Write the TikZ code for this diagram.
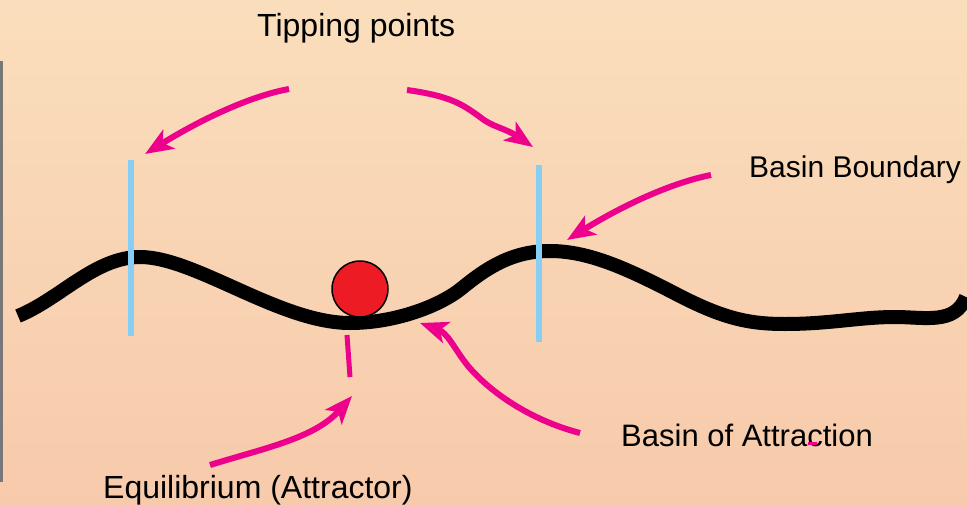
\documentclass[tikz,border=0pt]{standalone}
\usepackage{fontspec}
\setmainfont{Liberation Sans}
\usetikzlibrary{arrows.meta}
\definecolor{bgtop}{RGB}{250,222,188}
\definecolor{bgbot}{RGB}{247,202,171}
\definecolor{mag}{RGB}{236,0,140}
\definecolor{sky}{RGB}{135,206,245}
\definecolor{ballred}{RGB}{237,28,36}
\definecolor{edgegray}{RGB}{120,118,118}
\begin{document}
\begin{tikzpicture}[x=1pt,y=-1pt,
  lbl/.style={anchor=base west, inner sep=0pt, text=black},
  pointer/.style={draw=mag, line width=6pt, line cap=butt,
    -{Stealth[length=28pt,width=22pt,inset=7pt,fill=mag]}},
  bound/.style={draw=sky, line width=5.5pt},
  landscape/.style={draw=black, line width=14pt}]
\useasboundingbox (0,0) rectangle (967,506);
\shade[top color=bgtop,bottom color=bgbot] (0,0) rectangle (967,506);
\fill[edgegray] (0,61) rectangle (2.5,482);

% landscape
\coordinate (l0) at (18,316);
\coordinate (p1) at (140,257);
\coordinate (v1) at (350,323);
\coordinate (i1) at (462,288);
\coordinate (p2) at (550,251);
\coordinate (i2) at (680,296);
\coordinate (v2) at (785,324);
\coordinate (h3) at (895,317);
\coordinate (l1) at (966,297);
\draw[landscape] (l0) .. controls (60,299) and (95,257) .. (p1)
  .. controls (195,257) and (280,323) .. (v1)
  .. controls (395,323) and (440,306) .. (i1)
  .. controls (490,265) and (515,251) .. (p2)
  .. controls (590,251) and (630,270) .. (i2)
  .. controls (725,319) and (750,324) .. (v2)
  .. controls (830,324) and (860,317) .. (h3)
  .. controls (925,317) and (955,325) .. (l1);

% basin boundaries
\coordinate (b1t) at (131,160); \coordinate (b1b) at (131,336);
\coordinate (b2t) at (539,165); \coordinate (b2b) at (539,342);
\draw[bound] (b1t) -- (b1b);
\draw[bound] (b2t) -- (b2b);

% ball
\node[circle, draw=black, line width=1.5pt, fill=ballred, minimum size=56pt, inner sep=0pt] (ball) at (360,289) {};

% labels
\node[lbl, font=\fontsize{32}{38}\selectfont] (tip) at (257,36) {Tipping points};
\node[lbl, font=\fontsize{30}{36}\selectfont] (bb) at (749,177) {Basin Boundary};
\node[lbl, font=\fontsize{31}{37}\selectfont] (boa) at (621,446) {Basin of Attraction};
\node[lbl, font=\fontsize{32}{38}\selectfont] (eq) at (103,498) {Equilibrium (Attractor)};

% pointer coordinates
\coordinate (t1s) at (289,89);  \coordinate (t1e) at (145,154);
\coordinate (t2s) at (407,90);  \coordinate (t2m) at (480,117); \coordinate (t2e) at (533,147);
\coordinate (bbs) at (711,175); \coordinate (bbe) at (567,240);
\coordinate (bas) at (580,433); \coordinate (bam) at (468,366); \coordinate (bae) at (420,323);
\coordinate (eqs) at (210,465); \coordinate (eqe) at (352,396);
\coordinate (eqt) at (347,335); \coordinate (eqb) at (350,377);
\coordinate (dt1) at (808,443); \coordinate (dt2) at (817,443);

\draw[pointer] (t1s) .. controls (250,96) and (200,120) .. (t1e);
\draw[pointer] (t2s) .. controls (450,96) and (462,104) .. (t2m)
  .. controls (492,127) and (505,128) .. (t2e);
\draw[pointer] (bbs) .. controls (670,183) and (620,207) .. (bbe);
\draw[pointer] (bas) .. controls (530,420) and (490,392) .. (bam)
  .. controls (455,350) and (448,333) .. (bae);
\draw[pointer] (eqs) .. controls (265,448) and (315,438) .. (eqe);
\draw[draw=mag, line width=5pt] (eqt) -- (eqb);
\draw[draw=mag, line width=3pt] (dt1) -- (dt2);
\end{tikzpicture}
\end{document}
